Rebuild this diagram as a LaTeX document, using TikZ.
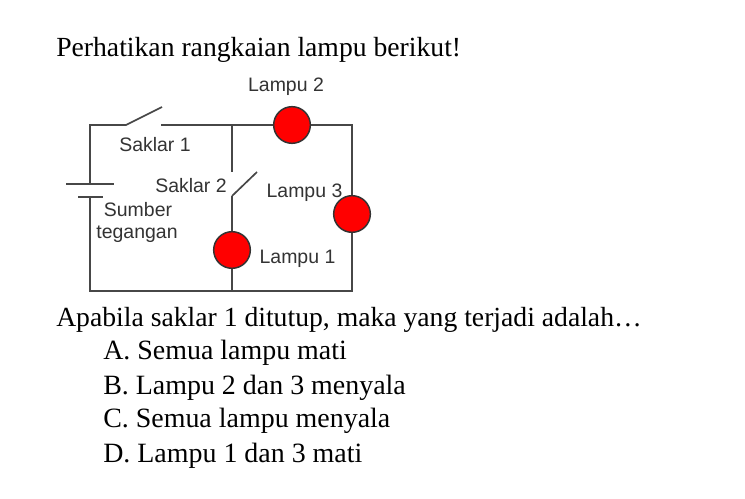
\documentclass[tikz,border=0pt]{standalone}
\usepackage{fontspec}
\setmainfont{Liberation Serif}
\newfontfamily\lab{Liberation Sans}
\tikzset{
  wire/.style={draw=black!72,line width=1.25pt,line join=miter},
  lamp/.style={circle,draw=black!80,fill=red,line width=1.1pt,minimum size=27.5pt,inner sep=0pt},
  lbl/.style={font=\lab\fontsize{14.6}{17}\selectfont,text=black!80,inner sep=0pt},
  txt/.style={font=\fontsize{20.75}{24}\selectfont,anchor=base west,inner sep=0pt},
  opt/.style={font=\fontsize{20.95}{24}\selectfont,anchor=base west,inner sep=0pt},
}
\begin{document}
\begin{tikzpicture}[x=0.75pt,y=-0.75pt]
\useasboundingbox (0,0) rectangle (745,499);
\fill[white] (0,0) rectangle (745,499);
\node[txt] (t0) at (56,56.5) {Perhatikan rangkaian lampu berikut!};
\node[txt] (t1) at (56,326.5) {Apabila saklar 1 ditutup, maka yang terjadi adalah…};
\node[opt] (a) at (103,359.5) {A. Semua lampu mati};
\node[opt] (b) at (103,394.5) {B. Lampu 2 dan 3 menyala};
\node[opt] (c) at (103,427.5) {C. Semua lampu menyala};
\node[opt] (d) at (103,462.5) {D. Lampu 1 dan 3 mati};
\coordinate (tl) at (90,125);
\coordinate (s1a) at (126,125);
\coordinate (s1b) at (162,107);
\coordinate (s1c) at (161,125);
\coordinate (tm) at (232,125);
\coordinate (tr) at (352,125);
\coordinate (br) at (352,291);
\coordinate (bm) at (232,291);
\coordinate (bl) at (90,291);
\coordinate (m1) at (232,172);
\coordinate (s2a) at (232,196);
\coordinate (s2b) at (257,172);
\coordinate (batT) at (90,184);
\coordinate (batB) at (90,197);
\coordinate (b1l) at (66,184);
\coordinate (b1r) at (114,184);
\coordinate (b2l) at (78,197);
\coordinate (b2r) at (103,197);
\draw[wire] (batT) -- (tl) -- (s1a) -- (s1b);
\draw[wire] (s1c) -- (tr) -- (br) -- (bl) -- (batB);
\draw[wire] (tm) -- (m1);
\draw[wire] (s2a) -- (s2b);
\draw[wire] (s2a) -- (bm);
\draw[wire] (b1l) -- (b1r);
\draw[wire] (b2l) -- (b2r);
\node[lamp] (l2) at (292,125) {};
\node[lamp] (l3) at (352,214) {};
\node[lamp] (l1) at (232,250) {};
\node[lbl] (n1) at (286,87) {Lampu 2};
\node[lbl] (n2) at (155,145) {Saklar 1};
\node[lbl] (n3) at (191,186) {Saklar 2};
\node[lbl] (n4) at (304.5,192.5) {Lampu 3};
\node[lbl] (n5) at (138,210) {Sumber};
\node[lbl] (n6) at (137,234) {tegangan};
\node[lbl] (n7) at (297.5,259) {Lampu 1};
\end{tikzpicture}
\end{document}
